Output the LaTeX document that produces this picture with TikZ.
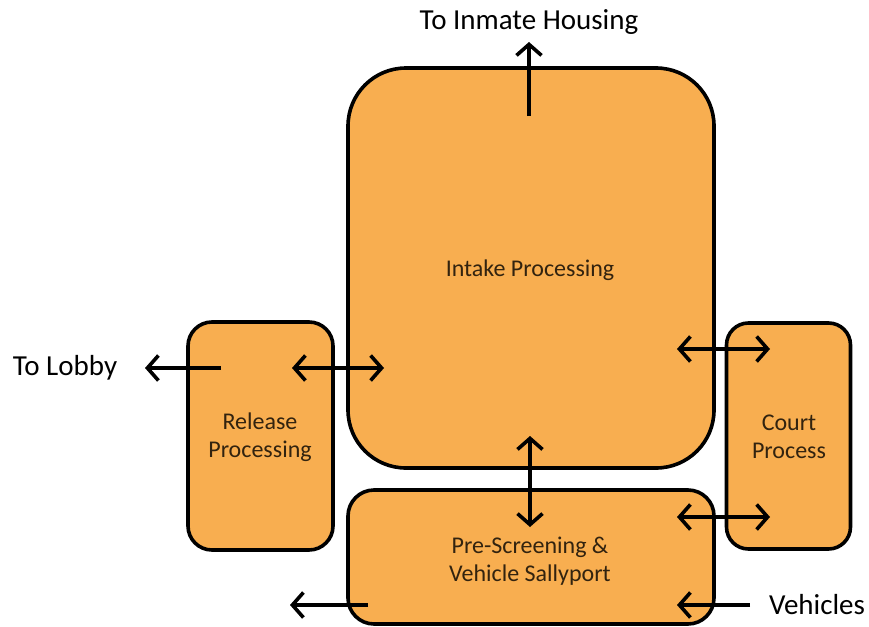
\documentclass[tikz,border=0pt]{standalone}
\usepackage{fontspec}
\setmainfont{Carlito}
\usetikzlibrary{arrows.meta}
\definecolor{boxfill}{RGB}{248,174,80}
\definecolor{boxtext}{RGB}{50,35,15}
\begin{document}
\begin{tikzpicture}[x=1pt,y=-1pt,
  area/.style={draw=black,line width=3.6pt,fill=boxfill,inner sep=0pt,
    text=boxtext,font=\fontsize{24}{28}\selectfont,align=center},
  boxlabel/.style={text=boxtext,font=\fontsize{24}{28}\selectfont,align=center},
  flow/.style={line width=3.6pt,-{Straight Barb[length=11pt,width=25pt,line width=3.6pt]}},
  flow2/.style={line width=3.6pt,{Straight Barb[length=11pt,width=25pt,line width=3.6pt]}-{Straight Barb[length=11pt,width=25pt,line width=3.6pt]}},
  outlabel/.style={font=\fontsize{29}{32}\selectfont,text=black}]
\useasboundingbox (0,0) rectangle (869,626);
% boxes
\node[area,rounded corners=58pt,minimum width=366pt,minimum height=400pt] (intake) at (531,268) {};
\node[area,rounded corners=24pt,minimum width=145pt,minimum height=228pt] (release) at (260.5,436) {};
\node[area,rounded corners=22pt,minimum width=124pt,minimum height=226pt] (court) at (788.5,436) {};
\node[area,rounded corners=26pt,minimum width=366pt,minimum height=134pt] (pre) at (531,557) {};
\node[boxlabel] (intakelbl) at (530,270) {Intake Processing};
\node[boxlabel] (releaselbl) at (260,437) {Release\\Processing};
\node[boxlabel] (courtlbl) at (789,437) {Court\\Process};
\node[boxlabel] (prelbl) at (530,561) {Pre-Screening \&\\Vehicle Sallyport};
% outside labels
\node[outlabel] (housing) at (529,22) {To Inmate Housing};
\node[outlabel] (lobby) at (65,368) {To Lobby};
\node[outlabel] (veh) at (817,605) {Vehicles};
% coordinates
\coordinate (hS) at (529,116);
\coordinate (hE) at (529,42);
\coordinate (lS) at (221,368);
\coordinate (lE) at (145,368);
\coordinate (riA) at (292,368);
\coordinate (riB) at (384,368);
\coordinate (ctA) at (677,349);
\coordinate (ctB) at (770,349);
\coordinate (cbA) at (677,517);
\coordinate (cbB) at (770,517);
\coordinate (ipA) at (530,436);
\coordinate (ipB) at (530,527);
\coordinate (vS) at (750,605);
\coordinate (vE) at (677,605);
\coordinate (oS) at (368,605);
\coordinate (oE) at (290,605);
% connectors
\draw[flow] (hS) -- (hE);
\draw[flow] (lS) -- (lE);
\draw[flow2] (riA) -- (riB);
\draw[flow2] (ctA) -- (ctB);
\draw[flow2] (cbA) -- (cbB);
\draw[flow2] (ipA) -- (ipB);
\draw[flow] (vS) -- (vE);
\draw[flow] (oS) -- (oE);
\end{tikzpicture}
\end{document}
